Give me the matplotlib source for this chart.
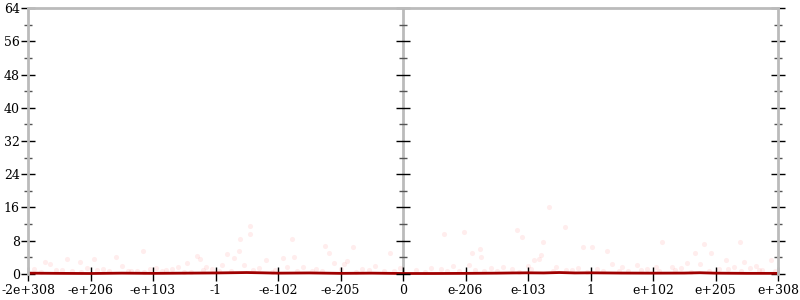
import matplotlib.pyplot as plt
import numpy as np

# x positions are in tick units (0..12), y is bits of error
tick_labels = ['-2e+308', '-e+206', '-e+103', '-1', '-e-102', '-e-205', '0',
               'e-206', 'e-103', '1', 'e+102', 'e+205', 'e+308']

pts_x = [3.55, 3.55, 4.23, 3.39, 1.84, 4.75, 5.79, 5.20, 3.37, 3.30, 3.18, 2.75,
         2.70, 2.55, 0.62, 1.05, 1.40, 0.27, 0.83, 3.80, 4.08, 4.25, 4.82, 5.10,
         4.90, 8.34, 8.59, 7.82, 6.98, 6.65, 7.91, 8.24, 10.14, 10.82, 11.39, 7.23,
         8.88, 9.02, 9.26, 7.10, 7.24, 8.20, 8.10, 8.18, 10.67, 10.93, 11.17, 11.89,
         11.45, 6.45, 6.80, 7.60, 9.75, 10.30, 11.65, 0.10, 0.45, 0.95, 1.20, 1.65,
         1.95, 2.20, 2.40, 2.95, 3.10, 3.70, 3.95, 4.40, 4.60, 5.35, 5.55, 5.95,
         6.20, 7.40, 7.75, 8.45, 8.70, 9.10, 9.50, 9.90, 10.45, 10.75, 11.05, 11.30,
         11.75, 0.35, 1.50, 2.05, 2.85, 3.45, 4.15, 5.05, 6.60, 7.05, 8.00, 8.80,
         9.35, 10.05, 10.55, 11.55, 0.70, 1.75, 2.60, 3.25, 4.55, 5.70, 7.30, 9.60,
         0.20, 0.55, 0.85, 1.10, 1.30, 1.60, 1.85, 2.15, 2.30, 2.50, 2.80, 3.05,
         3.60, 3.90, 4.30, 4.70, 5.00, 5.25, 5.45, 5.85, 6.35, 6.70, 6.90, 7.15,
         7.50, 7.85, 8.05, 8.40, 8.60, 8.95, 9.20, 9.45, 9.80, 10.10, 10.35, 10.60,
         10.90, 11.20, 11.40, 11.70, 11.95]
pts_y = [11.6, 9.7, 8.3, 8.4, 5.5, 6.8, 5.0, 6.4, 5.5, 3.9, 4.7, 3.5,
         4.3, 2.6, 3.6, 3.6, 4.1, 3.0, 3.0, 3.3, 3.9, 4.2, 5.1, 3.1,
         2.6, 16.0, 11.3, 10.5, 10.2, 9.7, 9.0, 7.6, 7.6, 7.2, 7.6, 6.1,
         6.5, 6.5, 5.5, 5.0, 4.2, 4.6, 3.4, 3.5, 5.0, 5.0, 3.4, 3.4,
         3.0, 1.5, 2.0, 1.8, 2.2, 1.6, 1.9, 1.2, 0.9, 1.5, 1.1, 0.8,
         1.3, 1.0, 1.6, 1.2, 2.1, 1.4, 1.0, 1.7, 1.3, 1.1, 2.0, 1.4,
         0.9, 1.5, 1.2, 1.8, 1.0, 1.3, 1.6, 1.1, 1.4, 2.3, 1.2, 1.7,
         1.0, 2.4, 2.0, 1.5, 1.8, 2.2, 1.6, 2.5, 1.3, 2.1, 1.9, 1.5,
         2.3, 1.8, 2.6, 1.4, 0.6, 0.7, 0.5, 0.8, 0.6, 0.7, 0.6, 0.8,
         0.4, 0.9, 0.5, 1.0, 0.6, 0.8, 0.4, 0.7, 1.1, 0.5, 0.9, 0.6,
         1.0, 0.5, 0.8, 0.6, 1.2, 0.4, 0.9, 0.7, 0.5, 0.8, 0.6, 1.0,
         0.7, 0.5, 1.1, 0.6, 0.9, 0.5, 0.8, 0.7, 1.0, 0.6, 0.9, 0.5,
         0.8, 1.1, 0.6, 0.9, 0.7]

line_x = [0.0, 0.5, 1.0, 1.5, 2.0, 2.5, 3.0, 3.25, 3.5, 3.75, 4.0, 4.5, 5.0, 5.5,
          6.0, 6.5, 7.0, 7.5, 7.75, 8.0, 8.25, 8.5, 8.75, 9.0, 9.5, 10.0, 10.5,
          10.75, 11.0, 11.5, 12.0]
line_y = [0.2, 0.15, 0.12, 0.2, 0.15, 0.2, 0.25, 0.3, 0.35, 0.28, 0.2, 0.25, 0.15, 0.2,
          0.12, 0.12, 0.15, 0.2, 0.25, 0.28, 0.25, 0.35, 0.25, 0.28, 0.22, 0.2, 0.22,
          0.3, 0.2, 0.15, 0.15]

plt.rcParams['font.family'] = 'DejaVu Serif'
fig = plt.figure(figsize=(8, 3), dpi=100)
ax = fig.add_axes([0.035, 0.0867, 0.9375, 0.8866])

grey = '#bbbbbb'
ax.scatter(pts_x, pts_y, s=14, color='red', alpha=0.07, linewidths=0, clip_on=False)
ax.plot(line_x, line_y, color='#a00000', lw=2, solid_capstyle='butt', clip_on=False)

ax.set_xlim(0, 12)
ax.set_ylim(0, 64)
ax.axvline(6, color=grey, lw=2, zorder=0)

for s in ['top', 'left', 'right']:
    ax.spines[s].set_color(grey)
    ax.spines[s].set_linewidth(2)
ax.spines['bottom'].set_visible(False)

ax.set_xticks(np.arange(13))
ax.set_xticklabels(tick_labels)
ax.set_yticks(np.arange(0, 65, 8))
ax.set_yticks(np.arange(4, 64, 8), minor=True)
ax.tick_params(axis='x', direction='inout', length=10, width=1, labelsize=9, pad=2)
ax.tick_params(axis='y', which='major', direction='inout', length=10, width=1,
               labelsize=9, pad=1, right=True)
ax.tick_params(axis='y', which='minor', direction='inout', length=6, width=1,
               color='#555555', right=True)

# ticks along the middle (zero) line
majors = np.arange(0, 65, 8)
minors = np.arange(4, 64, 8)
ax.plot([6] * len(majors), majors, marker='_', markersize=10, mew=1,
        color='black', ls='none', clip_on=False)
ax.plot([6] * len(minors), minors, marker='_', markersize=6, mew=1,
        color='#555555', ls='none', clip_on=False)

fig.savefig('out.png')
